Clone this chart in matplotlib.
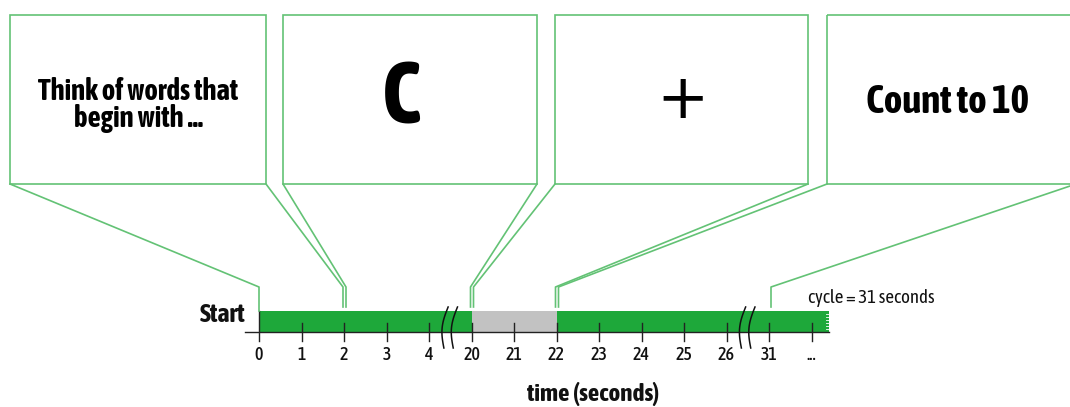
import matplotlib
matplotlib.use('Agg')
import matplotlib.pyplot as plt
import matplotlib.transforms as mtransforms
from matplotlib import font_manager
from matplotlib.patches import Rectangle
import numpy as np

# seconds written under the timeline (two stretches are cut out)
tick_labels = ['0', '1', '2', '3', '4', '20', '21', '22', '23', '24', '25', '26', '31', '...']
# what is on the screen, and the second it comes on
screens = ['Think of words that\nbegin with ...', 'C', '+', 'Count to 10']
screen_starts = ['0', '2', '20', '22']
cycle_end = '31'
# pieces of the bar: (from, to, kind); None = runs on past the last tick
bar_pieces = [('0', '20', 'task'), ('20', '22', 'rest'), ('22', None, 'task')]
# the axis is broken between these labels
breaks = [('4', '20'), ('26', '31')]

GREEN = '#1ea83a'
GREY = '#c2c2c2'
LINE = '#63c275'
W, H = 1070, 407


# want an upright narrow sans with a bold; take what is installed, else Roboto
def _weight(f):
    w = f.weight
    return w if isinstance(w, (int, float)) else font_manager.weight_dict.get(w, 400)


def _stretch(f):
    s = f.stretch
    return s if isinstance(s, (int, float)) else font_manager.stretch_dict.get(s, 500)


groups = {}
for f in font_manager.fontManager.ttflist:
    narrow = 'Narrow' in f.name or 'Condensed' in f.name or _stretch(f) < 500
    if narrow and f.style == 'normal':
        groups.setdefault((f.name, f.stretch), set()).add(_weight(f))
good = sorted(k for k, ws in groups.items() if 700 in ws and 400 in ws)
if not good:
    good = sorted(k for k, ws in groups.items() if 700 in ws)
if good:
    FONT, STRETCH = good[0]
else:
    FONT, STRETCH = 'Roboto', 'normal'
plt.rcParams['font.family'] = [FONT, 'DejaVu Sans']
plt.rcParams['font.stretch'] = STRETCH

fig = plt.figure(figsize=(W / 100, H / 100), dpi=100)
ax = fig.add_axes([0, 0, 1, 1])
ax.axis('off')
# one tick step is 42.5 px, first tick sits at x=259 px
ax.set_xlim(-259 / 42.5, (W - 259) / 42.5)
ax.set_ylim(0, 1)
renderer = fig.canvas.get_renderer()

# pixel coords, y downwards, for the layout
pix = mtransforms.Affine2D().scale(1 / W, -1 / H).translate(0, 1) + fig.transFigure
# x in tick units, y in pixels
tl = mtransforms.blended_transform_factory(ax.transData, pix)


def idx(label):
    return tick_labels.index(label)


def tick_px(label):
    return ax.transData.transform((idx(label), 0))[0]


def fit(txt, width):
    # scale the font so the text is as wide as in the reference
    w = txt.get_window_extent(renderer).width
    txt.set_fontsize(txt.get_fontsize() * width / w)


# --- timeline bar ---
bar_top, bar_bot = 311, 332
bar_end = len(tick_labels) - 0.6
for a, b, kind in bar_pieces:
    x0 = idx(a)
    x1 = idx(b) if b is not None else bar_end
    ax.add_patch(Rectangle((x0, bar_top), x1 - x0, bar_bot - bar_top, transform=tl,
                           facecolor=GREEN if kind == 'task' else GREY, lw=0))
# ragged end of the bar
for y in np.arange(bar_top + 3, bar_bot, 3):
    ax.plot([bar_end - 0.06, bar_end], [y, y], transform=tl, color='white', lw=0.6)

ax.plot([-0.33, bar_end], [bar_bot, bar_bot], transform=tl, color='#222222', lw=1)
for i, lab in enumerate(tick_labels):
    top = bar_top if i == 0 else 323
    ax.plot([i, i], [top, 341], transform=tl, color='#222222', lw=1)
    ax.text(i, 355, lab, transform=tl, ha='center', va='center', fontsize=13,
            fontweight='medium', color='#111111')

# break marks
t = np.linspace(0, 1, 60)
for a, b in breaks:
    xc = (idx(a) + idx(b)) / 2
    for off in (-0.1, 0.12):
        xs = xc + off - 0.09 * np.sin(np.pi * t) + 0.1 * (0.5 - t)
        ys = 307 + 41 * t
        ax.plot(xs, ys, transform=tl, color='#111111', lw=1.1)

# --- screen panels ---
panel_x = [(10, 266), (283, 537), (555, 808), (827, 1076)]
p_top, p_bot = 15, 184
text_style = [dict(fontsize=19, fontweight='bold', linespacing=0.95),
              dict(fontsize=62, fontweight='bold'),
              dict(fontsize=45, fontweight='normal', family='DejaVu Sans', fontstretch='normal'),
              dict(fontsize=23, fontweight='bold')]
text_y = [105, 100, 101, 102]
text_x = [138, 401, 683, 948]
text_w = [200, None, None, 164]
for (x0, x1), txt, st, tx, ty, tw in zip(panel_x, screens, text_style, text_x, text_y, text_w):
    ax.add_patch(Rectangle((x0, p_top), x1 - x0, p_bot - p_top, transform=pix,
                           fill=False, edgecolor=LINE, lw=1.2))
    t_art = ax.text(tx, ty, txt, transform=pix, ha='center', va='center', color='black', **st)
    if tw:
        fit(t_art, tw)

# connectors from the panel corners down to the timeline
knee, foot = 287, 307
for k, start in enumerate(screen_starts):
    xt = tick_px(start)
    left = xt if k == 0 else xt + 2
    end = bar_top if k == 0 else foot
    ax.plot([panel_x[k][0], left, left], [p_bot, knee, end], transform=pix, color=LINE, lw=1.2)
    if k > 0:
        ax.plot([panel_x[k - 1][1], xt - 1, xt - 1], [p_bot, knee, foot], transform=pix,
                color=LINE, lw=1.2)
xt = tick_px(cycle_end) + 2
ax.plot([panel_x[-1][1], xt, xt], [p_bot, knee, foot], transform=pix, color=LINE, lw=1.2)

# labels
fit(ax.text(245, 315, 'Start', transform=pix, ha='right', va='center', fontsize=18,
            fontweight='bold', color='#111111'), 46)
fit(ax.text(808, 298, 'cycle = 31 seconds', transform=pix, ha='left', va='center',
            fontsize=10.5, color='#111111'), 127)
fit(ax.text(593, 394, 'time (seconds)', transform=pix, ha='center', va='center',
            fontsize=16, fontweight='bold', color='#111111'), 133)

fig.savefig('out.png', dpi=100)
